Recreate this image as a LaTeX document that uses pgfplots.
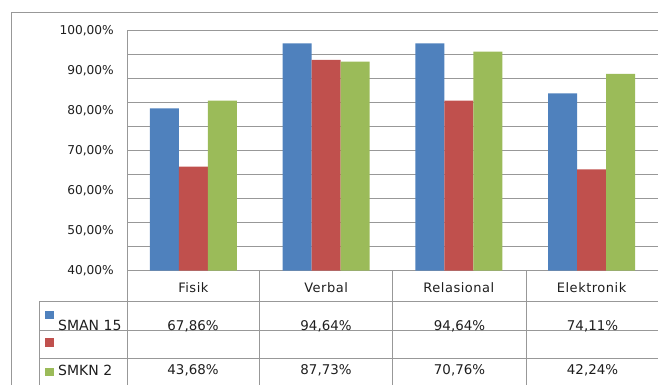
\documentclass[border=0pt]{standalone}
\usepackage{pgfplots}
\pgfplotsset{compat=1.18}
\usepackage{fontspec}
\setmainfont{DejaVu Sans}
\newfontfamily\spaced[LetterSpace=4]{DejaVu Sans}
\definecolor{cblue}{HTML}{4F81BD}
\definecolor{cred}{HTML}{C0504D}
\definecolor{cgreen}{HTML}{9BBB59}
\definecolor{gridc}{HTML}{989898}
\definecolor{txt}{HTML}{1E1E1E}
\begin{document}
\begin{tikzpicture}
\useasboundingbox (0pt,0pt) rectangle (658pt,-385pt);
\begin{axis}[
  at={(127pt,-270.7pt)}, anchor=south west,
  scale only axis, width=531pt, height=240pt,
  ymin=40, ymax=100, xmin=-0.5, xmax=3.5,
  ybar=0pt, bar width=29pt,
  xtick={0,1,2,3}, xticklabels={Fisik,Verbal,Relasional,Elektronik},
  ytick={40,50,...,100},
  minor ytick={40,46,...,100},
  ymajorgrids=false, yminorgrids=true,
  minor grid style={gridc, line width=0.9pt},
  major tick length=0pt, minor tick length=0pt,
  axis x line*=bottom, axis y line*=left,
  axis line style={gridc, line width=0.9pt, -},
  /pgf/number format/assume math mode=true,
  yticklabel={\pgfmathprintnumber[fixed,fixed zerofill,precision=2,use comma]{\tick}\%},
  yticklabel style={font=\fontsize{12.2}{12}\selectfont, text=txt, anchor=east, inner sep=0pt, xshift=-13pt},
  xticklabel style={font=\spaced\fontsize{13}{13}\selectfont, text=txt, anchor=center, inner sep=0pt, yshift=-16.6pt},
]
\addplot[draw=none, fill=cblue] coordinates {(0,80.6) (1,96.85) (2,96.85) (3,84.35)};
\addplot[draw=none, fill=cred] coordinates {(0,66.0) (1,92.7) (2,82.5) (3,65.35)};
\addplot[draw=none, fill=cgreen] coordinates {(0,82.5) (1,92.25) (2,94.75) (3,89.2)};
\end{axis}
\begin{scope}[x=1pt,y=-1pt]
  % outer frame
  \draw[gridc, line width=0.9pt] (11,385) -- (11,12) -- (658,12);
  % table lines
  \draw[gridc, line width=0.9pt] (39,301.7) -- (658,301.7);
  \draw[gridc, line width=0.9pt] (39,330.7) -- (658,330.7);
  \draw[gridc, line width=0.9pt] (39,358.3) -- (658,358.3);
  \draw[gridc, line width=0.9pt] (39,301.7) -- (39,385);
  \draw[gridc, line width=0.9pt] (127,270.7) -- (127,385);
  \foreach \xx in {259.3,392.7,526.7} {\draw[gridc, line width=0.9pt] (\xx,270.7) -- (\xx,385);}
  % legend keys
  \fill[cblue] (45,310.7) rectangle (54,319.3);
  \fill[cred] (45,338) rectangle (54,346.7);
  \fill[cgreen] (45,368) rectangle (54,375.5);
  \node[anchor=west, inner sep=0pt, text=txt, font=\fontsize{14}{14}\selectfont] at (58,325.7) {SMAN 15};
  \node[anchor=west, inner sep=0pt, text=txt, font=\fontsize{14}{14}\selectfont] at (58,370) {SMKN 2};
  % values
  \foreach \xx/\v in {193/{67,86\%},326/{94,64\%},459.5/{94,64\%},592.5/{74,11\%}}
    {\node[inner sep=0pt, text=txt, font=\fontsize{13.4}{13.4}\selectfont] at (\xx,326.7) {\v};}
  \foreach \xx/\v in {193/{43,68\%},326/{87,73\%},459.5/{70,76\%},592.5/{42,24\%}}
    {\node[inner sep=0pt, text=txt, font=\fontsize{13.4}{13.4}\selectfont] at (\xx,370) {\v};}
\end{scope}
\end{tikzpicture}
\end{document}
